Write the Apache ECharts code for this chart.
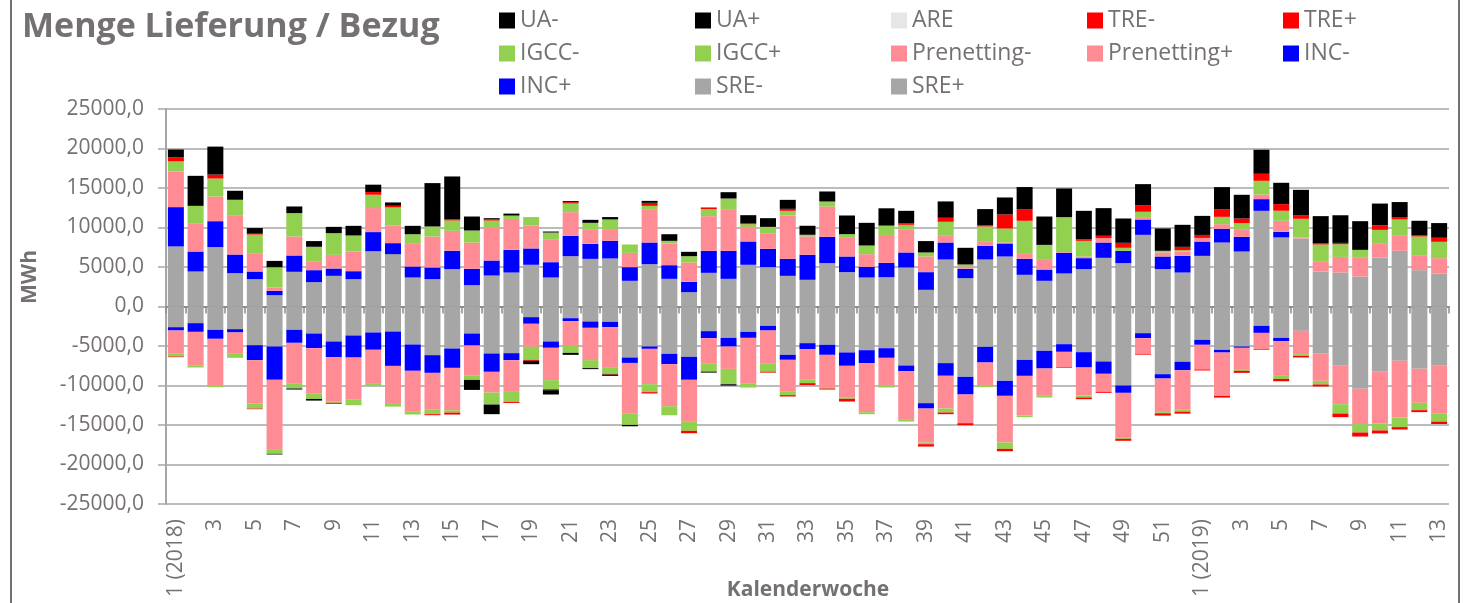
<!DOCTYPE html>
<html>
<head>
<meta charset="utf-8">
<title>Menge Lieferung / Bezug</title>
<script src="https://cdn.jsdelivr.net/npm/echarts@6/dist/echarts.min.js"></script>
<style>
  html, body { margin: 0; padding: 0; background: #fff; }
  #chart { width: 1466px; height: 603px; }
</style>
</head>
<body>
<div id="chart"></div>
<script>
// Kalenderwochen 2018 + 2019
const weeks = ['1 (2018)', '2', '3', '4', '5', '6', '7', '8', '9', '10', '11', '12', '13', '14', '15', '16', '17', '18', '19', '20',
  '21', '22', '23', '24', '25', '26', '27', '28', '29', '30', '31', '32', '33', '34', '35', '36', '37', '38', '39', '40',
  '41', '42', '43', '44', '45', '46', '47', '48', '49', '50', '51', '52',
  '1 (2019)', '2', '3', '4', '5', '6', '7', '8', '9', '10', '11', '12', '13']

const yTicks = [-25000, -20000, -15000, -10000, -5000, 0, 5000, 10000, 15000, 20000, 25000]

// Lieferung (positiv)
const srePlus = [7600, 4430, 7510, 4220, 3460, 1430, 4390, 3080, 3880, 3460, 7010, 6630, 3670, 3460, 4730, 2700, 3920, 4300, 5280, 3670,
  6370, 6030, 6080, 3250, 5360, 3500, 1810, 4260, 3500, 5280, 4980, 3880, 3380, 5490, 4350, 3670, 3710, 4940, 2110, 5950,
  3590, 5950, 6330, 4010, 3250, 4180, 4730, 6160, 5490, 9070, 4730, 4300, 6410, 8100, 6960, 12110, 8740, 8610, 4430, 4300,
  3800, 6200, 7050, 4600, 4180]
const incPlus = [4980, 2530, 3290, 2360, 970, 550, 2070, 1520, 930, 1010, 2410, 1390, 1390, 1480, 2320, 2070, 1900, 2870, 2070, 1940,
  2570, 1900, 2240, 1730, 2740, 1730, 1310, 2790, 3540, 2950, 2320, 2150, 3170, 3330, 1980, 1350, 1810, 1900, 2240, 2150,
  1180, 1730, 1650, 2030, 1430, 2620, 1390, 1940, 1560, 1940, 1600, 2110, 1810, 1730, 1860, 1480, 720, 0, 0, 0,
  0, 0, 0, 0, 0]
const prenettingPlus = [4520, 3590, 3120, 4900, 2320, 420, 2410, 1060, 1730, 2490, 3040, 2240, 2870, 3920, 2530, 3330, 4220, 3920, 2910, 2910,
  3000, 1860, 1480, 1810, 4220, 2740, 2450, 4390, 5280, 1770, 1980, 5490, 2320, 3840, 2450, 1600, 3540, 2870, 1980, 930,
  300, 510, 130, 720, 1220, 80, 210, 550, 0, 300, 510, 550, 460, 590, 970, 590, 1390, 130, 1310, 1980,
  2360, 1730, 1900, 1900, 1940]
const igccPlus = [1270, 2190, 2280, 2030, 2360, 2570, 2950, 1900, 2740, 2030, 1690, 2280, 1220, 1270, 1310, 1520, 840, 420, 1060, 840,
  1100, 800, 1220, 1060, 420, 340, 800, 890, 1350, 420, 800, 590, 210, 630, 380, 1100, 1180, 630, 510, 1690,
  250, 1940, 1770, 4090, 1900, 4430, 1980, 0, 380, 680, 210, 170, 0, 930, 760, 1730, 1270, 2360, 2110, 1600,
  1010, 1770, 2070, 2360, 2070]
const trePlus = [500, 0, 500, 0, 100, 0, 0, 0, 0, 0, 340, 210, 0, 0, 130, 0, 130, 0, 0, 0,
  170, 0, 0, 0, 380, 0, 0, 210, 0, 80, 0, 250, 0, 0, 0, 0, 0, 210, 0, 510,
  0, 130, 1770, 1480, 0, 0, 210, 300, 630, 840, 0, 420, 380, 970, 590, 890, 840, 420, 130, 170,
  0, 590, 300, 130, 510]
const uaPlus = [1000, 3800, 3540, 1140, 720, 800, 840, 720, 800, 1220, 930, 420, 1060, 5490, 5440, 1770, 170, 250, 0, 130,
  130, 380, 300, 0, 250, 840, 550, 0, 800, 1060, 1100, 1140, 1140, 1270, 2360, 2870, 2190, 1560, 1440, 2070,
  2110, 2070, 2150, 2790, 3590, 3630, 3590, 3500, 3080, 2660, 2830, 2790, 2410, 2790, 3000, 3040, 2700, 3250, 3460, 3500,
  3630, 2740, 1900, 1860, 1860]
const are = [0, 0, 0, 0, 0, 0, 0, 0, 0, 0, 0, 0, 0, 0, 0, 0, 0, 0, 0, 0,
  0, 0, 0, 0, 0, 0, 0, 0, 0, 0, 0, 0, 0, 0, 0, 0, 0, 0, 0, 0,
  0, 0, 0, 0, 0, 0, 0, 0, 0, 0, 0, 0, 0, 0, 0, 0, 0, 0, 0, 0,
  0, 0, 0, 0, 0]

// Bezug (negativ)
const sreMinus = [-2620, -2110, -2950, -2870, -4900, -5060, -2950, -3420, -4430, -3670, -3290, -3170, -4810, -6160, -5320, -3420, -5950, -5910, -1350, -4430,
  -1480, -1900, -1940, -6460, -5060, -5990, -6370, -3120, -3970, -3210, -2450, -6120, -4640, -4850, -5820, -5530, -5280, -7470, -12240, -7170,
  -8900, -5110, -9410, -6750, -5610, -4770, -5780, -6960, -10000, -3380, -8570, -7010, -4220, -5490, -5060, -2450, -3970, -3080, -5910, -7430,
  -10420, -8270, -6880, -7890, -7430]
const incMinus = [-420, -1100, -1140, -420, -1900, -4220, -1650, -1860, -1980, -2790, -2190, -4350, -3330, -2240, -2450, -1520, -2320, -890, -840, -800,
  -380, -800, -680, -680, -300, -1310, -2910, -890, -1100, -760, -590, -630, -760, -1270, -1690, -1650, -1220, -720, -680, -1600,
  -2240, -1980, -1900, -2030, -2240, -970, -1940, -1560, -930, -630, -550, -1060, -630, -340, -170, -890, -420, 0, 0, 0,
  0, 0, 0, 0, 0]
const prenettingMinus = [-2870, -4300, -5910, -2620, -5490, -8780, -5190, -5700, -5650, -5280, -4220, -4810, -5110, -4600, -5360, -3760, -2620, -4010, -2910, -4090,
  -3040, -4090, -5150, -6370, -4470, -5320, -5320, -3170, -2830, -5740, -4140, -4050, -3880, -4090, -3970, -6200, -3500, -6160, -4300, -4140,
  -3630, -2910, -5910, -5020, -3460, -1940, -3550, -2280, -5610, -2030, -4260, -4940, -3120, -5490, -2790, -2070, -4390, -2950, -3500, -4940,
  -4470, -6580, -7170, -4300, -6080]
const igccMinus = [-420, -210, -210, -590, -630, -590, -590, -720, -130, -760, -340, -340, -420, -630, -300, -590, -1520, -1270, -1650, -1140,
  -970, -1010, -760, -1480, -1010, -1140, -1140, -1060, -1940, -550, -1060, -420, -420, -170, -210, -250, -250, -210, -210, -510,
  0, -210, -800, -210, -210, 0, -250, 0, -210, 0, -130, -300, 0, 0, -130, 0, -380, -210, -460, -1180,
  -1060, -840, -1220, -930, -1060]
const treMinus = [-80, 0, 0, 0, -80, 0, 0, 0, -130, 0, 0, 0, 0, -130, -250, 0, 0, -130, -130, -130,
  0, 0, -80, 0, -170, 0, -300, 0, 0, 0, -130, -170, -250, -130, -340, 0, 0, 0, -300, -210,
  -250, 0, -300, 0, 0, -80, -210, -130, -250, -80, -300, -250, -130, -210, -250, -80, -300, -210, -250, -460,
  -510, -380, -300, -250, -300]
const uaMinus = [0, 0, 0, 0, 0, -80, -130, -210, 0, 0, 0, 0, 0, 0, 0, -1270, -1220, 0, -420, -550,
  -250, -130, -170, -170, 0, 0, 0, -130, -170, 0, 0, 0, 0, 0, 0, 0, 0, 0, 0, 0,
  0, 0, 0, 0, 0, 0, 0, 0, 0, 0, 0, 0, 0, 0, 0, 0, 0, 0, 0, 0,
  0, 0, 0, 0, 0]

const legendOrder = ['UA-', 'UA+', 'ARE', 'TRE-', 'TRE+', 'IGCC-', 'IGCC+', 'Prenetting-', 'Prenetting+', 'INC-', 'INC+', 'SRE-', 'SRE+']

const textColor = '#767171'
const gridColor = '#a6a6a6'
const fontFamily = '"Open Sans", "Noto Sans", sans-serif'

function bar(name, data, color) {
  return {
    name: name,
    type: 'bar',
    stack: 'total',
    barWidth: 16,
    data: data,
    itemStyle: { color: color },
    emphasis: { disabled: true }
  }
}

const chart = echarts.init(document.getElementById('chart'))

chart.setOption({
  animation: false,
  textStyle: { fontFamily: fontFamily },
  title: {
    text: 'Menge Lieferung / Bezug',
    left: 17,
    top: 5,
    textStyle: { color: textColor, fontSize: 34, fontWeight: 'bold', fontFamily: fontFamily }
  },
  legend: {
    data: legendOrder,
    left: 494,
    top: 4,
    width: 1000,
    itemWidth: 16,
    itemHeight: 16,
    itemGap: 10,
    icon: 'rect',
    selectedMode: false,
    textStyle: { color: textColor, fontSize: 23, lineHeight: 21, width: 165, fontFamily: fontFamily }
  },
  grid: { left: 166, right: 17, top: 109, bottom: 99, outerBoundsMode: 'none' },
  xAxis: [
    {
      // Beschriftung unten
      type: 'category',
      data: weeks,
      position: 'bottom',
      axisLine: { show: false, onZero: false },
      axisTick: { show: false },
      axisLabel: { interval: 1, rotate: 90, margin: 15, color: textColor, fontSize: 21, fontFamily: fontFamily }
    },
    {
      // Achse auf der Nulllinie
      type: 'category',
      data: weeks,
      position: 'bottom',
      axisLine: { show: true, onZero: true, lineStyle: { color: '#8c8c8c', width: 2 } },
      axisTick: { show: true, interval: 0, length: 7, lineStyle: { color: '#8c8c8c', width: 1.5 } },
      axisLabel: { show: false }
    }
  ],
  yAxis: {
    type: 'value',
    min: yTicks[0],
    max: yTicks[yTicks.length - 1],
    interval: 5000,
    axisLine: { show: true, lineStyle: { color: gridColor, width: 2 } },
    axisTick: { show: true, length: 8, lineStyle: { color: gridColor, width: 1.5 } },
    splitLine: { show: true, lineStyle: { color: gridColor, width: 1.5 } },
    axisLabel: {
      margin: 22,
      color: textColor,
      fontSize: 21,
      fontFamily: fontFamily,
      formatter: v => v.toFixed(1).replace('.', ',')
    }
  },
  graphic: [
    {
      type: 'text',
      x: 30,
      y: 277,
      rotation: Math.PI / 2,
      style: {
        text: 'MWh',
        fill: textColor,
        font: 'bold 21px ' + fontFamily,
        textAlign: 'center',
        textVerticalAlign: 'middle'
      }
    },
    {
      // Kalenderwoche als Achsentitel
      type: 'text',
      x: 808,
      y: 590,
      style: {
        text: 'Kalenderwoche',
        fill: textColor,
        font: 'bold 21px ' + fontFamily,
        textAlign: 'center',
        textVerticalAlign: 'middle'
      }
    },
    { type: 'line', shape: { x1: 11, y1: 0, x2: 11, y2: 603 }, style: { stroke: textColor, lineWidth: 2 } },
    { type: 'line', shape: { x1: 1459, y1: 0, x2: 1459, y2: 603 }, style: { stroke: textColor, lineWidth: 2 } }
  ],
  series: [
    bar('SRE+', srePlus, '#a6a6a6'),
    bar('SRE-', sreMinus, '#a6a6a6'),
    bar('INC+', incPlus, '#0000ff'),
    bar('INC-', incMinus, '#0000ff'),
    bar('Prenetting+', prenettingPlus, '#ff8c94'),
    bar('Prenetting-', prenettingMinus, '#ff8c94'),
    bar('IGCC+', igccPlus, '#92d050'),
    bar('IGCC-', igccMinus, '#92d050'),
    bar('TRE+', trePlus, '#ff0000'),
    bar('TRE-', treMinus, '#ff0000'),
    bar('ARE', are, '#e6e6e6'),
    bar('UA+', uaPlus, '#000000'),
    bar('UA-', uaMinus, '#000000')
  ]
})
</script>
</body>
</html>
